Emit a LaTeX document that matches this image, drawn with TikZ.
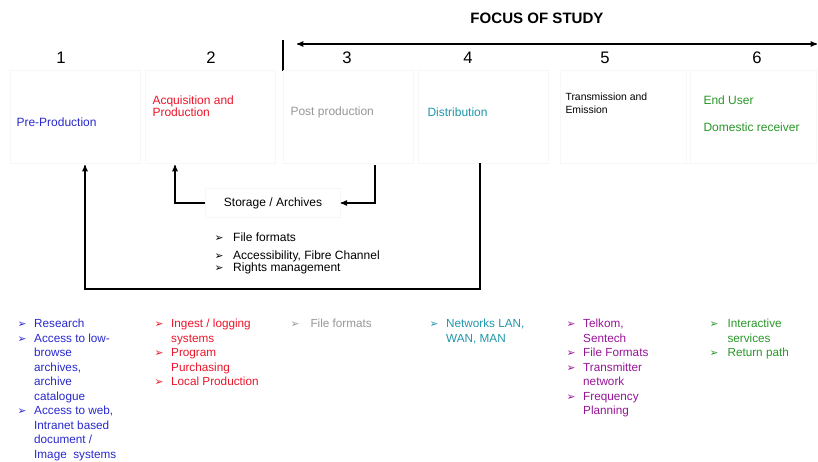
\documentclass[tikz,border=0pt]{standalone}
\usepackage{fontspec}
\setmainfont{Liberation Sans}
\newfontfamily\symfont{DejaVu Sans}
\usetikzlibrary{arrows,positioning}

\definecolor{preblue}{RGB}{40,40,205}
\definecolor{acqred}{RGB}{235,20,40}
\definecolor{postgray}{RGB}{150,150,150}
\definecolor{distteal}{RGB}{30,150,170}
\definecolor{transpurple}{RGB}{150,20,150}
\definecolor{endgreen}{RGB}{40,150,40}

\newcommand{\bul}{{\symfont\fontsize{8}{8}\selectfont ➢}}

\begin{document}
\begin{tikzpicture}[x=0.75pt,y=-0.75pt,>=stealth',thick,
    stage/.style={draw=black!3,line width=0.6pt,minimum width=97.5pt,minimum height=69.75pt,anchor=north west,inner sep=0pt},
    num/.style={font=\fontsize{12.5}{14}\selectfont,inner sep=0pt},
    label/.style={anchor=west,align=left,inner sep=0pt,font=\fontsize{9}{10.5}\selectfont},
    items/.style={anchor=north west,inner sep=0pt,font=\fontsize{8.8}{10.9}\selectfont}]

  \useasboundingbox (0,0) rectangle (818,461);

  % title and the focus range
  \node[font=\bfseries\fontsize{11.3}{13}\selectfont,inner sep=0pt] (focus) at (537,18) {FOCUS OF STUDY};
  \coordinate (fl) at (297,44);
  \coordinate (fr) at (817,44);
  \draw[<->] (fl) -- (fr);
  \coordinate (sept) at (283,40);
  \coordinate (sepb) at (283,71);
  \draw (sept) -- (sepb);

  % stage boxes
  \foreach \i/\x in {1/10,2/145,3/283,4/418,5/560,6/686}
    \node[stage] (s\i) at (\x,70) {};

  \node[num] (n1) at (61,58) {1};
  \node[num] (n2) at (211,58) {2};
  \node[num] (n3) at (347,58) {3};
  \node[num] (n4) at (468,58) {4};
  \node[num] (n5) at (605,58) {5};
  \node[num] (n6) at (757,58) {6};

  \node[label,text=preblue] (pre) at (16,122) {Pre-Production};
  \node[label,text=acqred] (acq) at (152,106) {Acquisition and\\[-1.5pt]Production};
  \node[label,text=postgray] (post) at (290,112) {Post production};
  \node[label,text=distteal] (dist) at (427,112) {Distribution};
  \node[label,font=\fontsize{7.8}{9.5}\selectfont] (trans) at (565,103) {Transmission and\\Emission};
  \node[label,text=endgreen] (user) at (703,100) {End User};
  \node[label,text=endgreen] (recv) at (703,127) {Domestic receiver};

  % storage
  \node[draw=black!3,line width=0.6pt,minimum width=101pt,minimum height=22pt,inner sep=0pt,
        font=\fontsize{9}{10.5}\selectfont] (st) at (273,203) {Storage / Archives};
  \node[items,font=\fontsize{9}{11.5}\selectfont] (stl) at (214,230) {%
    \begin{tabular}{@{}p{14pt}@{}l@{}}
      \bul & File formats\\[2pt]
      \bul & Accessibility, Fibre Channel\\[-2pt]
      \bul & Rights management
    \end{tabular}};

  % connectors
  \coordinate (p3) at (375,165);
  \coordinate (a2) at (175,165);
  \coordinate (d4) at (480,163);
  \coordinate (loop) at (85,289);
  \coordinate (a1) at (85,165);
  \draw[->] (p3) |- (st.east);
  \draw[->] (st.west) -| (a2);
  \draw[->] (d4) |- (loop) -- (a1);

  % lists under the stages
  \node[items,text=preblue] (l1) at (17,317) {%
    \begin{tabular}{@{}p{12.5pt}@{}l@{}}
      \bul & Research\\
      \bul & Access to low-\\
           & browse\\
           & archives,\\
           & archive\\
           & catalogue\\
      \bul & Access to web,\\
           & Intranet based\\
           & document /\\
           & Image\ \ systems
    \end{tabular}};
  \node[items,text=acqred] (l2) at (154,317) {%
    \begin{tabular}{@{}p{12.5pt}@{}l@{}}
      \bul & Ingest / logging\\
           & systems\\
      \bul & Program\\
           & Purchasing\\
      \bul & Local Production
    \end{tabular}};
  \node[items,text=postgray] (l3) at (290,317) {%
    \begin{tabular}{@{}p{15pt}@{}l@{}}
      \bul & File formats
    \end{tabular}};
  \node[items,text=distteal] (l4) at (429,317) {%
    \begin{tabular}{@{}p{12.5pt}@{}l@{}}
      \bul & Networks LAN,\\
           & WAN, MAN
    \end{tabular}};
  \node[items,text=transpurple] (l5) at (566,317) {%
    \begin{tabular}{@{}p{12.5pt}@{}l@{}}
      \bul & Telkom,\\
           & Sentech\\
      \bul & File Formats\\
      \bul & Transmitter\\
           & network\\
      \bul & Frequency\\
           & Planning
    \end{tabular}};
  \node[items,text=endgreen] (l6) at (709,317) {%
    \begin{tabular}{@{}p{13.5pt}@{}l@{}}
      \bul & Interactive\\
           & services\\
      \bul & Return path
    \end{tabular}};

\end{tikzpicture}
\end{document}
